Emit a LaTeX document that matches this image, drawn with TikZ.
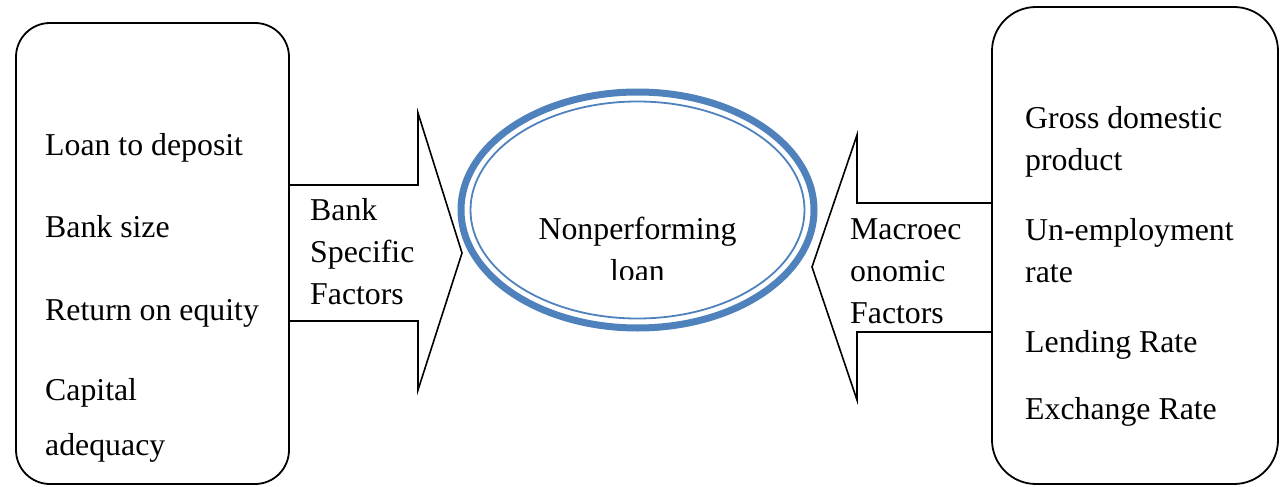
\documentclass[tikz,border=0pt]{standalone}
\usepackage{fontspec}
\setmainfont{Liberation Serif}
\usepackage{xcolor}
\usepackage{tikz}
\usetikzlibrary{positioning,calc}

\definecolor{npblue}{RGB}{79,129,189}

\begin{document}
\begin{tikzpicture}[x=1pt, y=-1pt,
    factorbox/.style={draw, line width=1.8pt, rounded corners=34pt},
    blockarrow/.style={draw, line width=1.6pt, line join=miter},
    itemtxt/.style={anchor=base west, inner sep=0pt, align=left, font=\fontsize{31.8}{42}\selectfont}]

    \useasboundingbox (0,0) rectangle (1283,487);

    % boxes holding the factors
    \draw[factorbox] (16,23) rectangle (289,484);
    \draw[factorbox, rounded corners=44pt] (992,7) rectangle (1278,484);

    % block arrows
    \draw[blockarrow] (289,185) -- (418,185) -- (418,113) -- (462,253) -- (418,390) -- (418,321) -- (289,321);
    \draw[blockarrow] (992,203) -- (857,203) -- (857,135) -- (812,267) -- (857,400) -- (857,332) -- (992,332);

    % centre ellipse
    \draw[npblue, line width=7pt] (637.5,210) ellipse [x radius=176.5pt, y radius=118pt];
    \draw[npblue, line width=1.8pt] (637.5,210) ellipse [x radius=167pt, y radius=108.5pt];

    \begin{scope}
        \clip (520,150) rectangle (760,279);
        \node[itemtxt, anchor=base, align=center] (npl) at (637.5,281) {Nonperforming\\loan};
    \end{scope}

    % bank specific side (base = last line)
    \node[itemtxt] (ltd) at (45,155) {Loan to deposit};
    \node[itemtxt] (bsz) at (45,237) {Bank size};
    \node[itemtxt] (roe) at (45,320) {Return on equity};
    \node[itemtxt, font=\fontsize{31.8}{55}\selectfont] (cad) at (45,455) {Capital\\adequacy};
    \node[itemtxt] (bsf) at (310,304) {Bank\\Specific\\Factors};

    % macroeconomic side
    \node[itemtxt] (gdp) at (1025,170) {Gross domestic\\product};
    \node[itemtxt] (unr) at (1025,282) {Un-employment\\rate};
    \node[itemtxt] (lnr) at (1025,352) {Lending Rate};
    \node[itemtxt] (exr) at (1025,419) {Exchange Rate};
    \node[itemtxt] (mef) at (850,323) {Macroec\\onomic\\Factors};

\end{tikzpicture}
\end{document}
